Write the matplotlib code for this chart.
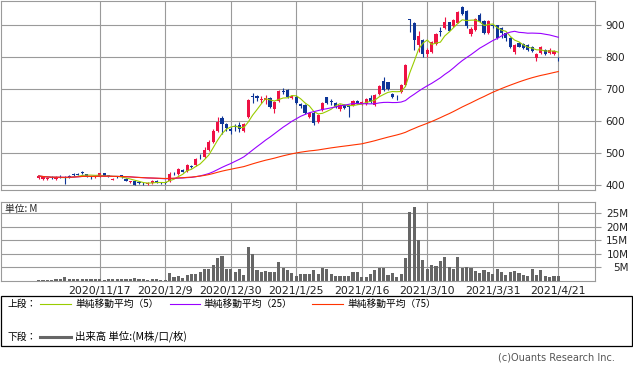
import numpy as np
import pandas as pd
import matplotlib
matplotlib.use('Agg')
import matplotlib.pyplot as plt
from matplotlib.patches import Rectangle

W, H = 633, 373
CJK = ['Noto Sans CJK JP', 'DejaVu Sans']

RED = '#ee1144'
BLUE = '#0d3597'
GREEN = '#99cc00'
PURPLE = '#9900ff'
ORANGE = '#ff3300'
GRID = '#9a9a9a'

# x axis labels (trading-day index of each label)
dates = ['2020/11/17', '2020/12/9', '2020/12/30', '2021/1/25',
         '2021/2/16', '2021/3/10', '2021/3/31', '2021/4/21']
date_pos = [14, 29, 44, 59, 74, 89, 104, 119]

opens = [422, 420, 418, 426, 419, 426, 425, 429, 433, 434,
         439, 433, 426, 424, 428, 436, 430, 417, 426, 431,
         420, 409, 414, 409, 407, 403, 406, 414, 408, 408,
         413, 438, 435, 447, 444, 460, 462, 491, 488, 510,
         534, 569, 610, 589, 575, 584, 588, 568, 612, 677,
         678, 664, 666, 672, 637, 662, 692, 697, 672, 675,
         652, 651, 612, 626, 595, 633, 673, 662, 657, 636,
         651, 645, 651, 661, 652, 652, 672, 651, 685, 723,
         720, 685, 678, 690, 713, 917, 905, 836, 851, 810,
         815, 840, 880, 891, 907, 895, 906, 955, 944, 872,
         884, 929, 913, 875, 900, 898, 889, 874, 860, 815,
         843, 840, 838, 830, 797, 811, 820, 812, 810, 794]
highs = [430, 428, 426, 428, 427, 430, 428, 432, 436, 437,
         443, 435, 429, 428, 438, 437, 432, 421, 428, 432,
         423, 414, 415, 411, 409, 408, 415, 416, 410, 410,
         440, 442, 452, 449, 464, 462, 483, 496, 517, 540,
         575, 611, 615, 592, 580, 590, 596, 592, 668, 688,
         682, 678, 680, 676, 662, 696, 702, 700, 680, 680,
         656, 654, 628, 630, 620, 660, 676, 668, 660, 654,
         654, 648, 664, 664, 663, 670, 682, 684, 712, 737,
         722, 688, 682, 716, 778, 918, 908, 880, 855, 828,
         850, 875, 892, 925, 910, 918, 942, 960, 946, 892,
         920, 936, 915, 914, 903, 900, 892, 877, 862, 840,
         846, 842, 840, 833, 812, 833, 823, 826, 820, 798]
lows = [418, 417, 415, 419, 416, 421, 403, 423, 428, 431,
        433, 426, 420, 421, 426, 427, 426, 415, 422, 421,
        413, 407, 399, 403, 401, 400, 404, 406, 404, 402,
        408, 432, 432, 440, 442, 452, 460, 482, 485, 507,
        531, 565, 560, 570, 560, 568, 566, 566, 610, 655,
        662, 656, 652, 640, 625, 658, 683, 672, 668, 652,
        640, 622, 608, 586, 592, 630, 652, 650, 640, 632,
        636, 612, 648, 654, 650, 650, 657, 648, 682, 692,
        697, 670, 665, 688, 710, 877, 820, 815, 800, 800,
        812, 836, 866, 888, 880, 893, 904, 930, 890, 866,
        880, 910, 872, 872, 890, 856, 860, 850, 828, 810,
        829, 823, 818, 815, 786, 808, 807, 808, 806, 786]
closes = [428, 425, 423, 421, 424, 424, 423, 425, 430, 433,
          438, 428, 425, 426, 436, 428, 428, 419, 424, 425,
          414, 411, 401, 406, 406, 406, 413, 408, 406, 405,
          435, 436, 449, 442, 462, 455, 481, 489, 510, 535,
          569, 597, 590, 579, 570, 583, 576, 589, 664, 676,
          670, 667, 671, 642, 660, 694, 690, 674, 677, 656,
          648, 626, 626, 592, 617, 657, 656, 660, 644, 651,
          640, 643, 661, 657, 660, 667, 660, 680, 709, 696,
          700, 673, 677, 713, 773, 915, 851, 864, 810, 822,
          846, 872, 878, 907, 882, 915, 939, 934, 895, 888,
          917, 913, 875, 911, 895, 860, 874, 858, 832, 836,
          832, 827, 822, 818, 810, 830, 810, 822, 818, 792]

# volume, millions
volume = [0.4, 0.4, 0.2, 0.5, 0.6, 0.9, 1.3, 0.8, 0.6, 0.8,
          0.8, 0.8, 0.6, 0.8, 0.8, 0.5, 0.6, 0.6, 0.8, 0.8,
          0.8, 0.8, 1.1, 0.8, 0.7, 0.5, 0.8, 0.8, 0.5, 0.5,
          3.1, 1.6, 1.9, 1.0, 2.2, 2.7, 2.7, 3.4, 4.4, 4.6,
          6.0, 8.5, 9.4, 4.6, 4.6, 3.4, 4.6, 2.2, 12.5, 10.0,
          4.1, 3.5, 3.7, 3.5, 3.5, 6.9, 4.7, 4.1, 3.1, 1.9,
          2.7, 2.7, 2.7, 4.1, 2.7, 4.7, 4.6, 2.7, 1.9, 1.9,
          1.9, 1.9, 3.5, 3.5, 1.5, 1.5, 2.7, 4.1, 4.7, 4.7,
          2.2, 3.1, 1.5, 2.5, 8.4, 25.6, 27.5, 15.0, 7.9, 4.6,
          6.0, 5.6, 7.5, 9.0, 5.2, 4.6, 9.0, 4.7, 5.2, 4.7,
          3.7, 3.1, 4.1, 3.4, 2.7, 4.6, 3.4, 2.2, 3.5, 3.7,
          3.1, 2.2, 1.9, 4.6, 2.2, 4.1, 1.9, 1.6, 1.9, 1.9]

price_ticks = [400, 500, 600, 700, 800, 900]
vol_ticks = [5, 10, 15, 20, 25]


def box(x0, y0, x1, y1):
    return [x0 / W, 1 - y1 / H, (x1 - x0) / W, (y1 - y0) / H]


fig = plt.figure(figsize=(W / 100, H / 100), dpi=100)
ax = fig.add_axes(box(0.5, 0.5, 595, 190))
axv = fig.add_axes(box(0.5, 201.5, 595, 281))

idx = np.arange(len(closes))
o = np.array(opens, float)
c = np.array(closes, float)
colors = np.where(c > o, RED, BLUE)

# candles ------------------------------------------------------------
ax.vlines(idx, lows, highs, colors=colors, lw=0.8, zorder=2)
diff = np.abs(c - o)
body = np.maximum(diff, 2.0)
ax.bar(idx, body, bottom=np.minimum(o, c) - (body - diff) / 2, width=0.72,
       color=colors, lw=0, zorder=2)

s = pd.Series(closes, dtype=float)
for n, col in [(5, GREEN), (25, PURPLE), (75, ORANGE)]:
    ax.plot(idx, s.rolling(n, min_periods=1).mean(), color=col, lw=0.8, zorder=3)

# volume -------------------------------------------------------------
axv.bar(idx, volume, width=0.72, color='#666666', lw=0, zorder=2)

for a in (ax, axv):
    a.set_xlim(-8.72, 127.4)
    a.set_xticks(date_pos)
    a.set_axisbelow(True)
    a.grid(color=GRID, lw=0.8)
    a.yaxis.tick_right()
    for sp in a.spines.values():
        sp.set_color(GRID)
        sp.set_linewidth(0.8)

ax.set_ylim(384.4, 975.6)
ax.set_yticks(price_ticks)
ax.tick_params(axis='x', length=0, labelbottom=False)
ax.tick_params(axis='y', length=4.5, color=GRID, pad=3, labelsize=7.5, labelcolor='#222222')

axv.set_ylim(0, 29.4)
axv.set_yticks(vol_ticks)
axv.set_yticklabels([f'{v}M' for v in vol_ticks])
axv.tick_params(axis='y', length=4.5, color=GRID, pad=19.5, labelsize=7.5, labelcolor='#222222')
for lbl in axv.get_yticklabels():
    lbl.set_ha('right')
axv.set_xticklabels(dates)
axv.tick_params(axis='x', length=0, pad=3.5, labelsize=7.8, labelcolor='#222222')
axv.text(0.008, 0.90, '単位: M', transform=axv.transAxes, family=CJK, fontsize=7,
         va='center', ha='left', color='#222222')

# legend box ---------------------------------------------------------
lax = fig.add_axes([0, 0, 1, 1], zorder=-1)
lax.set_xlim(0, W)
lax.set_ylim(H, 0)
lax.axis('off')
lax.add_patch(Rectangle((0.5, 295.7), 631.5, 50.3, fill=False, ec='black', lw=0.9))

row1, row2 = 303.5, 336.5
lax.text(8, row1, '上段：', family=CJK, fontsize=7, va='center')
lax.text(8, row2, '下段：', family=CJK, fontsize=7, va='center')
lax.plot([40, 70.5], [row1, row1], color=GREEN, lw=0.8)
lax.text(75, row1, '単純移動平均（5）', family=CJK, fontsize=7, va='center')
lax.plot([169.5, 200], [row1, row1], color=PURPLE, lw=0.8)
lax.text(203, row1, '単純移動平均（25）', family=CJK, fontsize=7, va='center')
lax.plot([312, 343], [row1, row1], color=ORANGE, lw=0.8)
lax.text(347, row1, '単純移動平均（75）', family=CJK, fontsize=7, va='center')
lax.plot([40, 70.5], [row2, row2], color='#666666', lw=2.2)
lax.text(75, row2, '出来高 単位:(M株/口/枚)', family=CJK, fontsize=7.5, va='center')

lax.text(615, 357.5, '(c)Ouants Research Inc.', fontsize=7, color='#555555',
         ha='right', va='center')

fig.savefig('out.png', dpi=100)
